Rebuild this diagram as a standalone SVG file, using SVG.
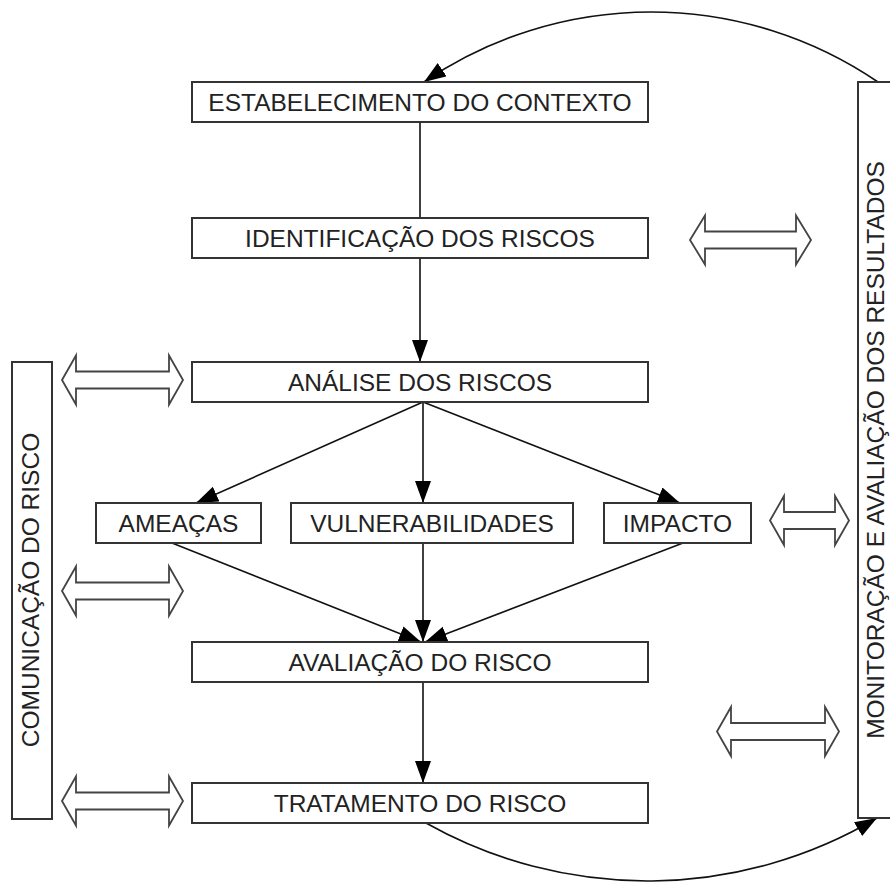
<svg xmlns="http://www.w3.org/2000/svg" width="890" height="883" viewBox="0 0 890 883">
<style>
  .box { fill: #ffffff; stroke: #333333; stroke-width: 2; }
  .lbl { font-family: "Liberation Sans", Arial, sans-serif; font-size: 24.5px; fill: #222222; text-anchor: middle; }
  .con { fill: none; stroke: #111111; stroke-width: 1.6; }
  .dbl { fill: #ffffff; stroke: #444444; stroke-width: 1.8; stroke-linejoin: miter; }
</style>
<defs>
  <marker id="ah" markerWidth="24" markerHeight="18" refX="22" refY="8" orient="auto" markerUnits="userSpaceOnUse">
    <path d="M0,0 L22,8 L0,16 z" fill="#000000"/>
  </marker>
</defs>
<rect width="890" height="883" fill="#ffffff"/>

<g id="connectors">
  <line class="con" x1="420" y1="122" x2="420" y2="218"/>
  <line class="con" x1="420" y1="258" x2="420" y2="362" marker-end="url(#ah)"/>
  <line class="con" x1="423" y1="402" x2="196" y2="503" marker-end="url(#ah)"/>
  <line class="con" x1="423" y1="402" x2="423" y2="503" marker-end="url(#ah)"/>
  <line class="con" x1="423" y1="402" x2="680" y2="503" marker-end="url(#ah)"/>
  <line class="con" x1="172" y1="543" x2="421" y2="642" marker-end="url(#ah)"/>
  <line class="con" x1="423" y1="543" x2="423" y2="642" marker-end="url(#ah)"/>
  <line class="con" x1="683" y1="543" x2="425" y2="642" marker-end="url(#ah)"/>
  <line class="con" x1="423" y1="682" x2="423" y2="783" marker-end="url(#ah)"/>
  <path class="con" d="M878,82 A403,403 0 0,0 424,82" marker-end="url(#ah)"/>
  <path class="con" d="M426,823 A451,451 0 0,0 877,818" marker-end="url(#ah)"/>
</g>

<g id="exchange-arrows">
  <path class="dbl" d="M62,380 L76,355.5 L76,371.5 L169,371.5 L169,355.5 L183,380 L169,404.5 L169,388.5 L76,388.5 L76,404.5 Z"/>
  <path class="dbl" d="M62,591 L76,566.5 L76,582.5 L169,582.5 L169,566.5 L183,591 L169,615.5 L169,599.5 L76,599.5 L76,615.5 Z"/>
  <path class="dbl" d="M62,801 L76,776.5 L76,792.5 L169,792.5 L169,776.5 L183,801 L169,825.5 L169,809.5 L76,809.5 L76,825.5 Z"/>
  <path class="dbl" d="M690,240 L705,215.5 L705,231.5 L796,231.5 L796,215.5 L811,240 L796,264.5 L796,248.5 L705,248.5 L705,264.5 Z"/>
  <path class="dbl" d="M770,520.5 L784,496 L784,512 L835,512 L835,496 L849,520.5 L835,545 L835,529 L784,529 L784,545 Z"/>
  <path class="dbl" d="M717,731.5 L731,707 L731,723 L825,723 L825,707 L839,731.5 L825,756 L825,740 L731,740 L731,756 Z"/>
</g>

<g id="n-contexto">
  <rect class="box" x="192" y="82" width="456" height="40"/>
  <text class="lbl" x="420" y="110.5">ESTABELECIMENTO DO CONTEXTO</text>
</g>
<g id="n-identificacao">
  <rect class="box" x="192" y="218" width="456" height="40"/>
  <text class="lbl" x="420" y="246.5">IDENTIFICAÇÃO DOS RISCOS</text>
</g>
<g id="n-analise">
  <rect class="box" x="192" y="362" width="456" height="40"/>
  <text class="lbl" x="420" y="390.5">ANÁLISE DOS RISCOS</text>
</g>
<g id="n-ameacas">
  <rect class="box" x="96" y="503" width="165" height="40"/>
  <text class="lbl" x="178.5" y="531.5">AMEAÇAS</text>
</g>
<g id="n-vulnerabilidades">
  <rect class="box" x="291" y="503" width="282" height="40"/>
  <text class="lbl" x="432" y="531.5">VULNERABILIDADES</text>
</g>
<g id="n-impacto">
  <rect class="box" x="604" y="503" width="147" height="40"/>
  <text class="lbl" x="677.5" y="531.5">IMPACTO</text>
</g>
<g id="n-avaliacao">
  <rect class="box" x="192" y="642" width="456" height="40"/>
  <text class="lbl" x="420" y="670.5">AVALIAÇÃO DO RISCO</text>
</g>
<g id="n-tratamento">
  <rect class="box" x="192" y="783" width="456" height="40"/>
  <text class="lbl" x="420" y="811.5">TRATAMENTO DO RISCO</text>
</g>
<g id="n-comunicacao">
  <rect class="box" x="12" y="362" width="40" height="457"/>
  <text class="lbl" transform="translate(38.5,590) rotate(-90)" x="0" y="0">COMUNICAÇÃO DO RISCO</text>
</g>
<g id="n-monitoracao">
  <rect class="box" x="858" y="82" width="40" height="736"/>
  <text class="lbl" transform="translate(884,450) rotate(-90)" x="0" y="0">MONITORAÇÃO E AVALIAÇÃO DOS RESULTADOS</text>
</g>
</svg>
